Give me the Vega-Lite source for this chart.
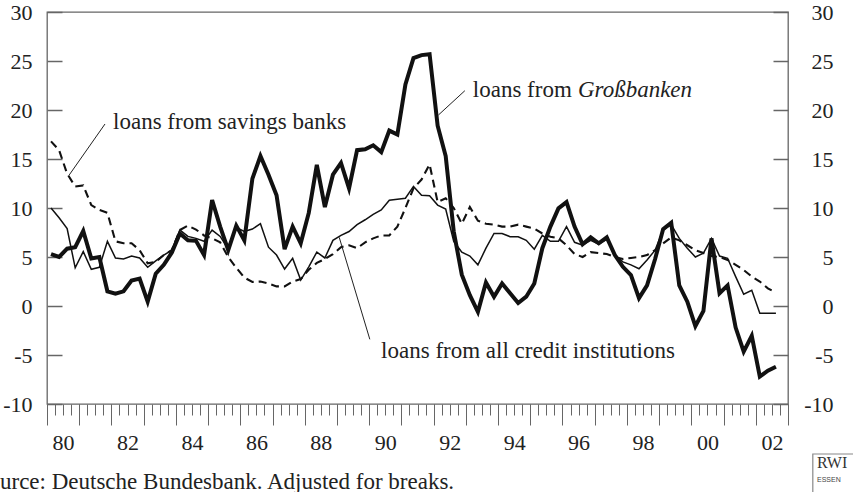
{
  "$schema": "https://vega.github.io/schema/vega-lite/v6.json",
  "width": 741,
  "height": 392,
  "autosize": {"type": "none"},
  "padding": {"left": 47, "top": 12, "right": 65, "bottom": 88},
  "background": "white",
  "config": {
    "view": {"stroke": "#666", "strokeWidth": 1.3},
    "font": "Liberation Serif",
    "axis": {"grid": false, "domain": false, "tickColor": "#666", "labelColor": "#222", "labelFont": "Liberation Serif", "labelFontSize": 22, "title": null}
  },
  "datasets": {
    "series": [
      {"t": 1980.125, "gross": 5.3, "all": 10.0, "savings": 16.8},
      {"t": 1980.375, "gross": 5.0, "all": 9.0, "savings": 15.9},
      {"t": 1980.625, "gross": 5.85, "all": 7.9, "savings": 13.5},
      {"t": 1980.875, "gross": 6.0, "all": 3.9, "savings": 12.2},
      {"t": 1981.125, "gross": 7.65, "all": 5.55, "savings": 12.3},
      {"t": 1981.375, "gross": 4.85, "all": 3.75, "savings": 10.3},
      {"t": 1981.625, "gross": 5.0, "all": 3.95, "savings": 9.8},
      {"t": 1981.875, "gross": 1.5, "all": 6.6, "savings": 9.5},
      {"t": 1982.125, "gross": 1.25, "all": 4.9, "savings": 6.6},
      {"t": 1982.375, "gross": 1.5, "all": 4.8, "savings": 6.4},
      {"t": 1982.625, "gross": 2.6, "all": 5.1, "savings": 6.4},
      {"t": 1982.875, "gross": 2.8, "all": 4.9, "savings": 5.7},
      {"t": 1983.125, "gross": 0.45, "all": 3.95, "savings": 4.35},
      {"t": 1983.375, "gross": 3.3, "all": 4.6, "savings": 4.5},
      {"t": 1983.625, "gross": 4.2, "all": 5.2, "savings": 5.2},
      {"t": 1983.875, "gross": 5.45, "all": 5.7, "savings": 5.7},
      {"t": 1984.125, "gross": 7.4, "all": 7.75, "savings": 7.75},
      {"t": 1984.375, "gross": 6.7, "all": 7.1, "savings": 8.2},
      {"t": 1984.625, "gross": 6.65, "all": 6.9, "savings": 7.8},
      {"t": 1984.875, "gross": 5.2, "all": 6.6, "savings": 7.2},
      {"t": 1985.125, "gross": 10.8, "all": 7.75, "savings": 6.9},
      {"t": 1985.375, "gross": 8.1, "all": 7.1, "savings": 6.5},
      {"t": 1985.625, "gross": 5.7, "all": 5.8, "savings": 5.0},
      {"t": 1985.875, "gross": 8.2, "all": 8.0, "savings": 3.9},
      {"t": 1986.125, "gross": 6.7, "all": 7.6, "savings": 2.9},
      {"t": 1986.375, "gross": 13.0, "all": 7.85, "savings": 2.45},
      {"t": 1986.625, "gross": 15.3, "all": 8.4, "savings": 2.5},
      {"t": 1986.875, "gross": 13.4, "all": 6.0, "savings": 2.3},
      {"t": 1987.125, "gross": 11.3, "all": 5.2, "savings": 2.0},
      {"t": 1987.375, "gross": 5.8, "all": 3.77, "savings": 2.0},
      {"t": 1987.625, "gross": 8.1, "all": 4.86, "savings": 2.5},
      {"t": 1987.875, "gross": 6.4, "all": 2.65, "savings": 2.75},
      {"t": 1988.125, "gross": 9.5, "all": 4.0, "savings": 3.7},
      {"t": 1988.375, "gross": 14.4, "all": 5.5, "savings": 4.4},
      {"t": 1988.625, "gross": 10.1, "all": 4.9, "savings": 4.8},
      {"t": 1988.875, "gross": 13.4, "all": 6.7, "savings": 5.3},
      {"t": 1989.125, "gross": 14.6, "all": 7.2, "savings": 6.0},
      {"t": 1989.375, "gross": 12.0, "all": 7.6, "savings": 6.2},
      {"t": 1989.625, "gross": 15.9, "all": 8.3, "savings": 5.9},
      {"t": 1989.875, "gross": 16.0, "all": 8.8, "savings": 6.5},
      {"t": 1990.125, "gross": 16.4, "all": 9.35, "savings": 6.9},
      {"t": 1990.375, "gross": 15.7, "all": 9.8, "savings": 7.2},
      {"t": 1990.625, "gross": 17.9, "all": 10.8, "savings": 7.2},
      {"t": 1990.875, "gross": 17.5, "all": 10.9, "savings": 8.1},
      {"t": 1991.125, "gross": 22.6, "all": 11.0, "savings": 10.0},
      {"t": 1991.375, "gross": 25.3, "all": 12.2, "savings": 12.0},
      {"t": 1991.625, "gross": 25.6, "all": 11.3, "savings": 12.9},
      {"t": 1991.875, "gross": 25.7, "all": 11.25, "savings": 14.45},
      {"t": 1992.125, "gross": 18.4, "all": 10.3, "savings": 10.6},
      {"t": 1992.375, "gross": 15.3, "all": 9.9, "savings": 11.0},
      {"t": 1992.625, "gross": 7.6, "all": 6.6, "savings": 10.0},
      {"t": 1992.875, "gross": 3.2, "all": 5.5, "savings": 8.4},
      {"t": 1993.125, "gross": 1.1, "all": 5.1, "savings": 10.1},
      {"t": 1993.375, "gross": -0.6, "all": 4.2, "savings": 8.7},
      {"t": 1993.625, "gross": 2.4, "all": 5.9, "savings": 8.4},
      {"t": 1993.875, "gross": 0.95, "all": 7.4, "savings": 8.3},
      {"t": 1994.125, "gross": 2.3, "all": 7.4, "savings": 8.1},
      {"t": 1994.375, "gross": 1.3, "all": 7.07, "savings": 8.1},
      {"t": 1994.625, "gross": 0.3, "all": 7.07, "savings": 8.3},
      {"t": 1994.875, "gross": 0.95, "all": 6.7, "savings": 8.1},
      {"t": 1995.125, "gross": 2.3, "all": 5.8, "savings": 7.9},
      {"t": 1995.375, "gross": 5.9, "all": 7.2, "savings": 7.4},
      {"t": 1995.625, "gross": 8.1, "all": 6.6, "savings": 7.07},
      {"t": 1995.875, "gross": 9.96, "all": 6.6, "savings": 6.9},
      {"t": 1996.125, "gross": 10.6, "all": 8.1, "savings": 6.2},
      {"t": 1996.375, "gross": 8.1, "all": 6.5, "savings": 5.3},
      {"t": 1996.625, "gross": 6.3, "all": 6.2, "savings": 5.0},
      {"t": 1996.875, "gross": 7.0, "all": 6.7, "savings": 5.5},
      {"t": 1997.125, "gross": 6.4, "all": 6.3, "savings": 5.4},
      {"t": 1997.375, "gross": 7.0, "all": 6.8, "savings": 5.3},
      {"t": 1997.625, "gross": 5.2, "all": 5.2, "savings": 5.0},
      {"t": 1997.875, "gross": 4.0, "all": 4.5, "savings": 4.8},
      {"t": 1998.125, "gross": 3.16, "all": 4.2, "savings": 4.9},
      {"t": 1998.375, "gross": 0.8, "all": 3.8, "savings": 5.0},
      {"t": 1998.625, "gross": 2.1, "all": 4.7, "savings": 5.2},
      {"t": 1998.875, "gross": 4.8, "all": 5.7, "savings": 5.7},
      {"t": 1999.125, "gross": 7.85, "all": 7.76, "savings": 6.4},
      {"t": 1999.375, "gross": 8.5, "all": 8.3, "savings": 7.0},
      {"t": 1999.625, "gross": 2.1, "all": 6.9, "savings": 6.7},
      {"t": 1999.875, "gross": 0.44, "all": 5.9, "savings": 6.2},
      {"t": 2000.125, "gross": -2.05, "all": 5.0, "savings": 5.7},
      {"t": 2000.375, "gross": -0.5, "all": 5.4, "savings": 5.4},
      {"t": 2000.625, "gross": 6.9, "all": 6.9, "savings": 5.1},
      {"t": 2000.875, "gross": 1.3, "all": 5.1, "savings": 5.0},
      {"t": 2001.125, "gross": 2.1, "all": 4.87, "savings": 4.7},
      {"t": 2001.375, "gross": -2.2, "all": 3.0, "savings": 4.2},
      {"t": 2001.625, "gross": -4.66, "all": 1.2, "savings": 3.67},
      {"t": 2001.875, "gross": -3.05, "all": 1.6, "savings": 3.0},
      {"t": 2002.125, "gross": -7.2, "all": -0.75, "savings": 2.5},
      {"t": 2002.375, "gross": -6.6, "all": -0.75, "savings": 1.8},
      {"t": 2002.625, "gross": -6.2, "all": -0.75, "savings": 1.35}
    ],
    "pointers": [
      {"t1": 1981.80, "v1": 18.57, "t2": 1980.69, "v2": 13.37},
      {"t1": 1992.97, "v1": 21.97, "t2": 1992.15, "v2": 19.49},
      {"t1": 1989.07, "v1": 7.01, "t2": 1990.02, "v2": -3.40}
    ],
    "labelsLeft": [
      {"t": 1982.05, "v": 18.03, "label": "loans from savings banks"},
      {"t": 1990.37, "v": -5.26, "label": "loans from all credit institutions"}
    ],
    "labelsRight": [
      {"t": 1996.29, "v": 21.36, "label": "loans from"}
    ],
    "labelsItalic": [
      {"t": 1996.48, "v": 21.36, "label": "Großbanken"}
    ],
    "source": [
      {"t": 1977.787, "v": -18.67, "label": "Source: Deutsche Bundesbank. Adjusted for breaks."}
    ],
    "logoBox": [
      {"t1": 2003.77, "t2": 2006.0, "v1": -15.1, "v2": -20.5}
    ],
    "logoBig": [
      {"t": 2003.9, "v": -16.53, "label": "RWI"}
    ],
    "logoSmall": [
      {"t": 2003.9, "v": -17.96, "label": "ESSEN"}
    ]
  },
  "resolve": {"axis": {"x": "independent", "y": "independent"}},
  "layer": [
    {
      "data": {"name": "series"},
      "mark": {"type": "line", "color": "#111", "strokeWidth": 2.1, "strokeDash": [8, 5]},
      "encoding": {
        "x": {
          "field": "t", "type": "quantitative",
          "scale": {"domain": [1980, 2003], "nice": false, "zero": false},
          "axis": {
            "orient": "bottom", "labels": false, "tickSize": 11, "tickWidth": 1,
            "values": [1980, 1980.25, 1980.5, 1980.75, 1981, 1981.25, 1981.5, 1981.75, 1982, 1982.25, 1982.5, 1982.75, 1983, 1983.25, 1983.5, 1983.75, 1984, 1984.25, 1984.5, 1984.75, 1985, 1985.25, 1985.5, 1985.75, 1986, 1986.25, 1986.5, 1986.75, 1987, 1987.25, 1987.5, 1987.75, 1988, 1988.25, 1988.5, 1988.75, 1989, 1989.25, 1989.5, 1989.75, 1990, 1990.25, 1990.5, 1990.75, 1991, 1991.25, 1991.5, 1991.75, 1992, 1992.25, 1992.5, 1992.75, 1993, 1993.25, 1993.5, 1993.75, 1994, 1994.25, 1994.5, 1994.75, 1995, 1995.25, 1995.5, 1995.75, 1996, 1996.25, 1996.5, 1996.75, 1997, 1997.25, 1997.5, 1997.75, 1998, 1998.25, 1998.5, 1998.75, 1999, 1999.25, 1999.5, 1999.75, 2000, 2000.25, 2000.5, 2000.75, 2001, 2001.25, 2001.5, 2001.75, 2002, 2002.25, 2002.5, 2002.75, 2003]
          }
        },
        "y": {
          "field": "savings", "type": "quantitative",
          "scale": {"domain": [-10, 30], "nice": false, "zero": false},
          "axis": {
            "orient": "left", "values": [-10, -5, 0, 5, 10, 15, 20, 25, 30],
            "tickSize": -15, "tickWidth": 1.5, "labelPadding": 30,
            "labelAlign": "right", "labelBaseline": "middle",
            "labelExpr": "'' + datum.value"
          }
        }
      }
    },
    {
      "data": {"name": "series"},
      "mark": {"type": "line", "color": "#111", "strokeWidth": 1.5},
      "encoding": {
        "x": {
          "field": "t", "type": "quantitative",
          "axis": {
            "orient": "bottom", "tickSize": 21, "tickWidth": 1,
            "values": [1980, 1981, 1982, 1983, 1984, 1985, 1986, 1987, 1988, 1989, 1990, 1991, 1992, 1993, 1994, 1995, 1996, 1997, 1998, 1999, 2000, 2001, 2002, 2003],
            "format": "d",
            "labelExpr": "datum.value % 2 == 0 && datum.value < 2003 ? substring(datum.label, 2) : ''",
            "labelOffset": 16.1, "labelPadding": 7, "labelFlush": false, "labelOverlap": false, "labelBound": false,
            "labelAlign": "center", "labelBaseline": "top"
          }
        },
        "y": {
          "field": "all", "type": "quantitative",
          "axis": {
            "orient": "right", "values": [-10, -5, 0, 5, 10, 15, 20, 25, 30],
            "tickSize": -15, "tickWidth": 1.5, "labelPadding": 60,
            "labelAlign": "right", "labelBaseline": "middle",
            "labelExpr": "'' + datum.value"
          }
        }
      }
    },
    {
      "data": {"name": "series"},
      "mark": {"type": "line", "color": "#111", "strokeWidth": 4},
      "encoding": {
        "x": {"field": "t", "type": "quantitative", "axis": null},
        "y": {"field": "gross", "type": "quantitative", "axis": null}
      }
    },
    {
      "data": {"name": "pointers"},
      "mark": {"type": "rule", "color": "#222", "strokeWidth": 1},
      "encoding": {
        "x": {"field": "t1", "type": "quantitative", "axis": null},
        "x2": {"field": "t2"},
        "y": {"field": "v1", "type": "quantitative", "axis": null},
        "y2": {"field": "v2"}
      }
    },
    {
      "data": {"name": "labelsLeft"},
      "mark": {"type": "text", "align": "left", "baseline": "alphabetic", "fontSize": 23, "font": "Liberation Serif", "color": "#222"},
      "encoding": {
        "x": {"field": "t", "type": "quantitative", "axis": null},
        "y": {"field": "v", "type": "quantitative", "axis": null},
        "text": {"field": "label"}
      }
    },
    {
      "data": {"name": "labelsRight"},
      "mark": {"type": "text", "align": "right", "baseline": "alphabetic", "fontSize": 23, "font": "Liberation Serif", "color": "#222"},
      "encoding": {
        "x": {"field": "t", "type": "quantitative", "axis": null},
        "y": {"field": "v", "type": "quantitative", "axis": null},
        "text": {"field": "label"}
      }
    },
    {
      "data": {"name": "labelsItalic"},
      "mark": {"type": "text", "align": "left", "baseline": "alphabetic", "fontSize": 23, "font": "Liberation Serif", "fontStyle": "italic", "color": "#222"},
      "encoding": {
        "x": {"field": "t", "type": "quantitative", "axis": null},
        "y": {"field": "v", "type": "quantitative", "axis": null},
        "text": {"field": "label"}
      }
    },
    {
      "data": {"name": "source"},
      "mark": {"type": "text", "align": "left", "baseline": "alphabetic", "fontSize": 23, "font": "Liberation Serif", "color": "#222"},
      "encoding": {
        "x": {"field": "t", "type": "quantitative", "axis": null},
        "y": {"field": "v", "type": "quantitative", "axis": null},
        "text": {"field": "label"}
      }
    },
    {
      "data": {"name": "logoBox"},
      "mark": {"type": "rect", "fill": "white", "stroke": "#888", "strokeWidth": 1.2},
      "encoding": {
        "x": {"field": "t1", "type": "quantitative", "axis": null},
        "x2": {"field": "t2"},
        "y": {"field": "v1", "type": "quantitative", "axis": null},
        "y2": {"field": "v2"}
      }
    },
    {
      "data": {"name": "logoBig"},
      "mark": {"type": "text", "align": "left", "baseline": "alphabetic", "fontSize": 16, "font": "Liberation Serif", "color": "#333"},
      "encoding": {
        "x": {"field": "t", "type": "quantitative", "axis": null},
        "y": {"field": "v", "type": "quantitative", "axis": null},
        "text": {"field": "label"}
      }
    },
    {
      "data": {"name": "logoSmall"},
      "mark": {"type": "text", "align": "left", "baseline": "alphabetic", "fontSize": 7, "font": "Liberation Sans", "color": "#444"},
      "encoding": {
        "x": {"field": "t", "type": "quantitative", "axis": null},
        "y": {"field": "v", "type": "quantitative", "axis": null},
        "text": {"field": "label"}
      }
    }
  ]
}
